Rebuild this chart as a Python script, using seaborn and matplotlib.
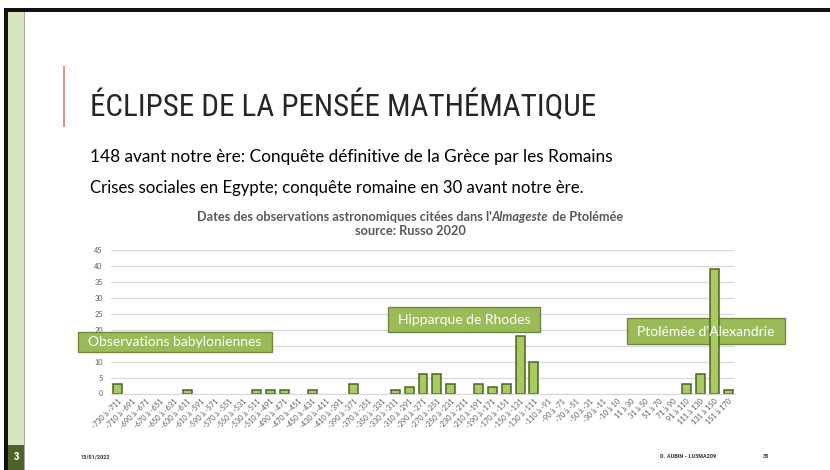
import numpy as np
import pandas as pd
import matplotlib
matplotlib.use("Agg")
import matplotlib.pyplot as plt
from matplotlib.patches import Rectangle
from matplotlib import font_manager
import seaborn as sns

# ---------------- data ----------------
bin_starts = [-730, -710, -690, -670, -650, -630, -610, -590, -570, -550,
              -530, -510, -490, -470, -450, -430, -410, -390, -370, -350,
              -330, -310, -290, -270, -250, -230, -210, -190, -170, -150,
              -130, -110, -90, -70, -50, -30, -10, 11, 31, 51, 71, 91, 111, 131, 151]
bin_ends = [-711, -691, -671, -651, -631, -611, -591, -571, -551, -531,
            -511, -491, -471, -451, -431, -411, -391, -371, -351, -331,
            -311, -291, -271, -251, -231, -211, -191, -171, -151, -131,
            -111, -91, -71, -51, -31, -11, 10, 30, 50, 70, 90, 110, 130, 150, 170]
counts = [3, 0, 0, 0, 0, 1, 0, 0, 0, 0,
          1, 1, 1, 0, 1, 0, 0, 3, 0, 0,
          1, 2, 6, 6, 3, 0, 3, 2, 3, 18,
          10, 0, 0, 0, 0, 0, 0, 0, 0, 0,
          0, 3, 6, 39, 1]
labels = [f"{a} à {b}" for a, b in zip(bin_starts, bin_ends)]
y_ticks = [0, 5, 10, 15, 20, 25, 30, 35, 40, 45]

slide_title = "ÉCLIPSE DE LA PENSÉE MATHÉMATIQUE"
line1 = "148 avant notre ère: Conquête définitive de la Grèce par les Romains"
line2 = "Crises sociales en Egypte; conquête romaine en 30 avant notre ère."
chart_title_parts = ["Dates des observations astronomiques citées dans l'", "Almageste", " de Ptolémée"]
chart_subtitle = "source: Russo 2020"
callouts = ["Observations babyloniennes", "Hipparque de Rhodes", "Ptolémée d'Alexandrie"]

# ---------------- fonts ----------------
names = {f.name for f in font_manager.fontManager.ttflist}
def pick(*cands):
    for c in cands:
        if c in names:
            return c
    return "DejaVu Sans"
NARROW = pick("Liberation Sans Narrow", "DejaVu Sans Condensed", "Roboto Condensed", "Liberation Sans")
BODY = pick("Lato", "Open Sans", "Noto Sans")

sns.set_theme(style="white")
plt.rcParams["font.family"] = [BODY, "DejaVu Sans"]

W, H = 830, 470
fig = plt.figure(figsize=(8.3, 4.7), dpi=100)
fig.patch.set_facecolor("white")

def fx(x):
    return x / W
def fy(y):
    return 1 - y / H

# ---------------- slide decoration ----------------
fig.add_artist(Rectangle((fx(8), fy(445)), fx(24) - fx(8), fy(11) - fy(445),
                         transform=fig.transFigure, fc="#d7e4bd", ec="none", zorder=0))
fig.add_artist(Rectangle((fx(8), fy(470)), fx(24) - fx(8), fy(445) - fy(470),
                         transform=fig.transFigure, fc="#4f6228", ec="none", zorder=0))
fig.add_artist(Rectangle((fx(23.5), fy(470)), fx(1), fy(11) - fy(470),
                         transform=fig.transFigure, fc="#a6a6a6", ec="none", zorder=0))
fig.add_artist(Rectangle((fx(4), fy(470)), fx(4), fy(8) - fy(470),
                         transform=fig.transFigure, fc="#111111", ec="none", zorder=0))
fig.add_artist(Rectangle((fx(4), fy(11.5)), 1 - fx(4), fy(8) - fy(11.5),
                         transform=fig.transFigure, fc="#111111", ec="none", zorder=0))
fig.add_artist(Rectangle((fx(63), fy(127)), fx(1.6), fy(66) - fy(127),
                         transform=fig.transFigure, fc="#d99694", ec="none", zorder=0))
fig.text(fx(16), fy(457), "3", color="white", fontsize=8, fontweight="bold",
         family=[NARROW, "DejaVu Sans"], ha="center", va="center")

# ---------------- texts ----------------
t_title = fig.text(fx(90), fy(116), slide_title, family=[NARROW, "DejaVu Sans"],
                   fontsize=26, color="#262626", ha="left", va="baseline")
t_l1 = fig.text(fx(90), fy(162), line1, fontsize=11, color="#000000", ha="left", va="baseline")
t_l2 = fig.text(fx(90), fy(193), line2, fontsize=11, color="#000000", ha="left", va="baseline")

fig.text(fx(80), fy(457), "13/01/2022", family=[NARROW, "DejaVu Sans"], fontsize=4.5,
         color="#404040", fontweight="bold", ha="left", va="center")
fig.text(fx(716), fy(457), "D. AUBIN - LU3MA209", family=[NARROW, "DejaVu Sans"], fontsize=4.5,
         color="#404040", fontweight="bold", ha="right", va="center")
fig.text(fx(766), fy(457), "35", family=[NARROW, "DejaVu Sans"], fontsize=4.5,
         color="#404040", fontweight="bold", ha="center", va="center")

# ---------------- chart ----------------
ax_left, ax_right, ax_top, ax_bot = 111, 735, 250, 393.5
ax = fig.add_axes([fx(ax_left), fy(ax_bot), fx(ax_right) - fx(ax_left), fy(ax_top) - fy(ax_bot)])
ax.set_facecolor("none")

df = pd.DataFrame({"periode": labels, "n": counts})
sns.barplot(data=df, x="periode", y="n", ax=ax, color="#a6cc5c", width=0.64,
            edgecolor="#4f6228", linewidth=1.1, saturation=1, zorder=2)
for p in ax.patches:
    if p.get_height() == 0:
        p.set_visible(False)
ax.set_ylim(0, 45)
ax.set_xlim(-0.5, len(labels) - 0.5)
ax.set_yticks(y_ticks)
ax.set_yticklabels([str(v) for v in y_ticks], fontsize=5.2, color="#595959")
ax.set_xticks(range(len(labels)))
ax.set_xticklabels(labels, rotation=45, ha="right", rotation_mode="anchor",
                   fontsize=5.3, color="#595959")
ax.tick_params(axis="y", length=0, pad=6)
ax.tick_params(axis="x", length=0, pad=3)
ax.set_xlabel("")
ax.set_ylabel("")
ax.set_axisbelow(True)
ax.yaxis.grid(True, color="#d9d9d9", linewidth=0.9, zorder=0)
ax.xaxis.grid(False)
for s in ["left", "right", "top"]:
    ax.spines[s].set_visible(False)
ax.spines["bottom"].set_color("#d9d9d9")
ax.spines["bottom"].set_linewidth(0.9)

# callout boxes (box under bars, text on top)
boxes = [(78, 332, 272, 352, 175, 342.5, 2.8),
         (388, 307, 540, 332, 464, 320, 1.5),
         (627, 318, 785, 344, 706, 331.5, 1.5)]
for (x0, y0, x1, y1, tx, ty, z), txt in zip(boxes, callouts):
    ax.add_patch(Rectangle((fx(x0), fy(y1)), fx(x1) - fx(x0), fy(y0) - fy(y1),
                           transform=fig.transFigure, fc="#9bbb59", ec="#71893f",
                           lw=1.0, clip_on=False, zorder=z))
    ax.text(fx(tx), fy(ty), txt, transform=fig.transFigure, color="white",
            fontsize=10, ha="center", va="center", zorder=3, clip_on=False)

# chart title with italic word
fig.canvas.draw()
r = fig.canvas.get_renderer()

def fit(t, target):
    w = t.get_window_extent(r).width
    t.set_fontsize(t.get_fontsize() * target / w)

fit(t_title, 507)
fit(t_l1, 522)
fit(t_l2, 493)

parts = []
styles = ["normal", "italic", "normal"]
for p, st in zip(chart_title_parts, styles):
    parts.append(fig.text(0, fy(221), p, fontsize=8.6, fontweight="bold", style=st,
                          color="#595959", ha="left", va="baseline"))
fig.canvas.draw()
widths = [p.get_window_extent(r).width for p in parts]
scale = 424 / sum(widths)
for p in parts:
    p.set_fontsize(p.get_fontsize() * scale)
fig.canvas.draw()
widths = [p.get_window_extent(r).width for p in parts]
total = sum(widths)
x = 410 - total / 2
for p, w in zip(parts, widths):
    p.set_x(fx(x))
    x += w
fig.text(fx(410), fy(235), chart_subtitle, fontsize=parts[0].get_fontsize(), fontweight="bold",
         color="#595959", ha="center", va="baseline")

fig.savefig("out.png", dpi=100, facecolor="white")
